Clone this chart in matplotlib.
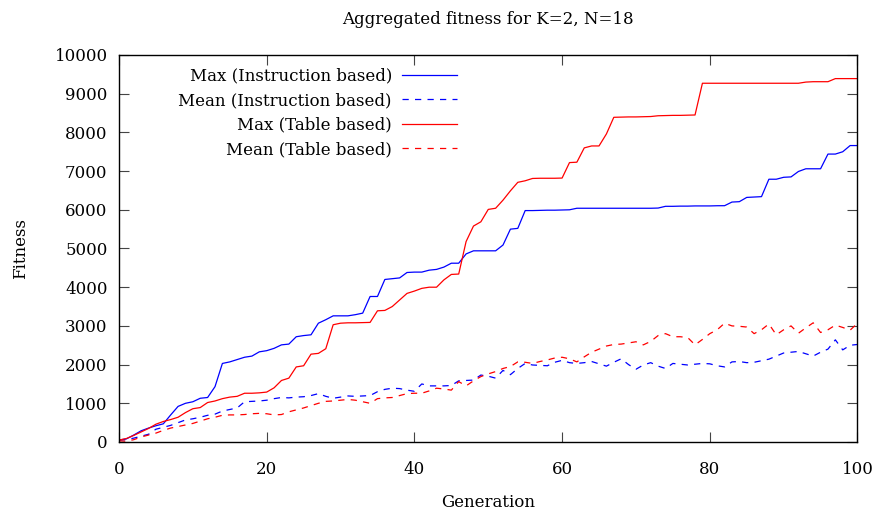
import matplotlib
matplotlib.use("Agg")
import matplotlib.pyplot as plt
import numpy as np

generations = list(range(0, 101))

max_instruction = [
    50, 80, 180, 290, 360, 420, 470, 700, 920, 1000,
    1040, 1130, 1150, 1430, 2030, 2070, 2130, 2190, 2220, 2330,
    2360, 2420, 2510, 2530, 2720, 2750, 2770, 3070, 3160, 3260,
    3260, 3260, 3290, 3330, 3760, 3760, 4200, 4220, 4240, 4380,
    4390, 4390, 4440, 4460, 4520, 4620, 4620, 4860, 4940, 4940,
    4940, 4940, 5090, 5500, 5520, 5980, 5980, 5985, 5990, 5990,
    5995, 6000, 6040, 6040, 6040, 6040, 6040, 6040, 6040, 6040,
    6040, 6040, 6040, 6045, 6090, 6090, 6095, 6095, 6100, 6100,
    6100, 6105, 6106, 6200, 6210, 6320, 6330, 6340, 6790, 6790,
    6840, 6850, 6990, 7060, 7060, 7060, 7440, 7440, 7500, 7660,
    7660,
]

mean_instruction = [
    50, 60, 100, 150, 200, 330, 380, 430, 500, 570,
    600, 640, 690, 720, 800, 840, 880, 1040, 1050, 1060,
    1080, 1120, 1150, 1140, 1160, 1170, 1200, 1250, 1180, 1130,
    1160, 1190, 1180, 1190, 1200, 1300, 1360, 1390, 1380, 1340,
    1310, 1500, 1450, 1450, 1450, 1460, 1580, 1590, 1600, 1730,
    1700, 1650, 1850, 1740, 1900, 2030, 1990, 1980, 1970, 2060,
    2110, 2050, 2030, 2050, 2080, 2020, 1960, 2060, 2150, 2000,
    1880, 1990, 2050, 1960, 1900, 2030, 2010, 1990, 2010, 2030,
    2020, 1970, 1940, 2070, 2080, 2050, 2060, 2100, 2140, 2220,
    2300, 2320, 2340, 2280, 2220, 2320, 2400, 2640, 2380, 2500,
    2520,
]

max_table = [
    50, 90, 170, 260, 350, 460, 530, 580, 640, 760,
    860, 890, 1020, 1060, 1120, 1160, 1180, 1260, 1260, 1270,
    1290, 1400, 1590, 1650, 1940, 1970, 2270, 2290, 2410, 3030,
    3070, 3080, 3080, 3085, 3090, 3390, 3400, 3500, 3670, 3840,
    3900, 3970, 4000, 4000, 4190, 4330, 4340, 5180, 5580, 5690,
    6010, 6040, 6250, 6490, 6710, 6750, 6810, 6815, 6815, 6815,
    6820, 7220, 7230, 7600, 7650, 7650, 7960, 8390, 8395, 8400,
    8400, 8405, 8410, 8430, 8435, 8440, 8440, 8445, 8450, 9270,
    9270, 9270, 9270, 9270, 9270, 9270, 9270, 9270, 9270, 9270,
    9270, 9270, 9270, 9300, 9310, 9310, 9310, 9390, 9390, 9390,
    9390,
]

mean_table = [
    30, 20, 60, 130, 180, 230, 300, 360, 400, 440,
    480, 540, 600, 640, 690, 700, 700, 710, 730, 740,
    730, 700, 710, 780, 830, 880, 940, 1000, 1050, 1060,
    1080, 1100, 1080, 1040, 1000, 1120, 1140, 1150, 1200, 1250,
    1260, 1260, 1320, 1390, 1370, 1340, 1560, 1450, 1580, 1690,
    1760, 1820, 1900, 1950, 2070, 2060, 2030, 2080, 2120, 2170,
    2190, 2150, 2070, 2200, 2320, 2400, 2480, 2520, 2530, 2560,
    2590, 2510, 2600, 2750, 2800, 2720, 2720, 2700, 2510, 2650,
    2800, 2900, 3070, 3000, 2990, 2970, 2800, 2900, 3050, 2770,
    2900, 3000, 2810, 2950, 3080, 2830, 2900, 3020, 2960, 2890,
    3070,
]

labels = ["Max (Instruction based)", "Mean (Instruction based)",
          "Max (Table based)", "Mean (Table based)"]
x_ticks = [0, 20, 40, 60, 80, 100]
y_ticks = list(range(0, 10001, 1000))

plt.rcParams['font.family'] = ['DejaVu Serif']
plt.rcParams['lines.scale_dashes'] = False

FS = 12
fig = plt.figure(figsize=(8.78, 5.16), dpi=100)
L, R, T, B = 119, 857.5, 55, 442
ax = fig.add_axes([L/878, 1-B/516, (R-L)/878, (B-T)/516])

blue = '#0000ff'
red = '#ff0000'
ax.plot(generations, max_instruction, color=blue, lw=0.9, label=labels[0])
ax.plot(generations, mean_instruction, color=blue, lw=0.9, dashes=(4.5, 4.5), label=labels[1])
ax.plot(generations, max_table, color=red, lw=0.9, label=labels[2])
ax.plot(generations, mean_table, color=red, lw=0.9, dashes=(4.5, 4.5), label=labels[3])

ax.set_xlim(0, 100)
ax.set_ylim(0, 10000)
ax.set_xticks(x_ticks)
ax.set_yticks(y_ticks)
ax.tick_params(direction='in', length=7, width=0.8, top=True, right=True,
               labelsize=FS, color='#444444')
ax.tick_params(axis='x', pad=13.5)
ax.tick_params(axis='y', pad=8.2)
for s in ax.spines.values():
    s.set_linewidth(1.0)

ax.set_title("Aggregated fitness for K=2, N=18", fontsize=FS, pad=22.5)
ax.set_xlabel("Generation", fontsize=FS, labelpad=11.7)
ax.set_ylabel("Fitness", fontsize=FS, labelpad=18)

handle_right = (457 - L) / (R - L)
leg_top = 1 - (67.5 - T) / (B - T)
leg = ax.legend(loc='upper right', bbox_to_anchor=(handle_right, leg_top), frameon=False,
                markerfirst=False, fontsize=FS, handlelength=3.3,
                handletextpad=0.6, labelspacing=0.45, borderaxespad=0, borderpad=0)

fig.savefig("out.png", dpi=100)
